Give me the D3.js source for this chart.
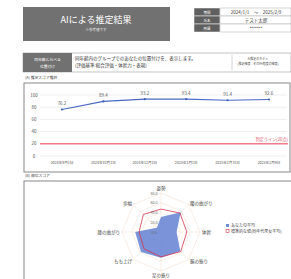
<!DOCTYPE html>
<html><head><meta charset="utf-8">
<script src="https://cdn.jsdelivr.net/npm/d3@7"></script>
<style>html,body{margin:0;padding:0;background:#fff;}svg{display:block;font-family:"Noto Sans CJK JP","Noto Sans",sans-serif;}</style>
</head><body>
<svg id="c" width="291" height="279"></svg>
<script>
// ---- data ----
const dates = ["2024年9月1日","2024年10月1日","2024年12月1日","2025年1月1日","2025年1月31日","2025年2月9日"];
const scores = [76.2, 89.4, 93.2, 93.4, 91.4, 92.6];
const yTicks = [0, 20, 40, 60, 80, 100];
const thresholdValue = 20;
const thresholdLabel = "判定ライン(20点)";
const radarAxes = ["姿勢","腰の曲がり","体幹","腕の振り","足の振り","もも上げ","膝の曲がり","歩幅"];
const yourAvg = [31, 57, 32, 56, 53, 58, 53, 12];
const standard = [47, 55, 53, 57, 51, 49, 45, 51];
const radarTicks = [0, 20, 40, 60, 80];
const infoLabels = ["期間","氏名","所属"];
const infoValues = ["2024/1/1　～　2025/2/9","テスト太郎","******"];

const svg = d3.select("#c");
const dark = "#717171";

// ---- title ----
svg.append("rect").attr("x",23).attr("y",7).attr("width",147).attr("height",34).attr("fill",dark);
svg.append("text").attr("x",96).attr("y",23).attr("text-anchor","middle").attr("fill","#fff")
  .attr("font-size",9).text("AIによる推定結果");
svg.append("text").attr("x",96).attr("y",31).attr("text-anchor","middle").attr("fill","#eee")
  .attr("font-size",3.5).text("※参考値です");

// ---- info table ----
const rowH = 8;
infoLabels.forEach((l,i)=>{
  const y = 8 + i*rowH;
  svg.append("rect").attr("x",194).attr("y",y).attr("width",26).attr("height",rowH).attr("fill","#5f5f5f").attr("stroke","#fff").attr("stroke-width",0.5);
  svg.append("rect").attr("x",220).attr("y",y).attr("width",71).attr("height",rowH).attr("fill","#fff").attr("stroke","#aaa").attr("stroke-width",0.5);
  svg.append("text").attr("x",207).attr("y",y+5.5).attr("text-anchor","middle").attr("fill","#fff").attr("font-size",3.5).text(l);
  svg.append("text").attr("x",256).attr("y",y+5.7).attr("text-anchor","middle").attr("fill","#333").attr("font-size",4.5).text(infoValues[i]);
});

// ---- description row ----
svg.append("rect").attr("x",23).attr("y",53).attr("width",268).attr("height",19).attr("fill","#fff").attr("stroke","#999").attr("stroke-width",0.6);
svg.append("rect").attr("x",23).attr("y",53).attr("width",49).attr("height",19).attr("fill",dark);
svg.append("text").attr("x",47.5).attr("y",61).attr("text-anchor","middle").attr("fill","#fff").attr("font-size",3.8).text("同年齢と比べる");
svg.append("text").attr("x",47.5).attr("y",67.5).attr("text-anchor","middle").attr("fill","#fff").attr("font-size",3.8).text("位置付け");
svg.append("text").attr("x",75).attr("y",60).attr("fill","#333").attr("font-size",4.5).text("同年齢内のグループでのあなたの位置付けを、表示します。");
svg.append("text").attr("x",75).attr("y",67).attr("fill","#333").attr("font-size",4.5).text("(評価基準:総合評価・体幹力・表現)");
svg.append("line").attr("x1",232).attr("x2",232).attr("y1",55).attr("y2",70).attr("stroke","#bbb").attr("stroke-width",0.6);
svg.append("text").attr("x",258).attr("y",60).attr("text-anchor","middle").attr("fill","#555").attr("font-size",3).text("AI推定のモデル");
svg.append("text").attr("x",258).attr("y",65).attr("text-anchor","middle").attr("fill","#555").attr("font-size",3).text("(推定精度：約70%程度の精度)");

// ---- chart A ----
svg.append("text").attr("x",25).attr("y",79).attr("fill","#444").attr("font-size",3.8).text("(A) 推定スコア推移");
svg.append("rect").attr("x",24).attr("y",83).attr("width",266).attr("height",89).attr("fill","#fff").attr("stroke","#888").attr("stroke-width",1);

const y = d3.scaleLinear().domain([0,100]).range([156,95]);
const x = d3.scalePoint().domain(dates).range([62,269]);
const gA = svg.append("g");
yTicks.forEach(t=>{
  gA.append("line").attr("x1",40).attr("x2",287).attr("y1",y(t)).attr("y2",y(t)).attr("stroke","#e2e2e2").attr("stroke-width",0.6);
  gA.append("text").attr("x",34).attr("y",y(t)+1.6).attr("text-anchor","middle").attr("fill","#555").attr("font-size",4.5).text(t);
});
gA.append("line").attr("x1",40).attr("x2",288).attr("y1",y(thresholdValue)).attr("y2",y(thresholdValue)).attr("stroke","#ef7d8a").attr("stroke-width",1.4);
gA.append("text").attr("x",288).attr("y",y(thresholdValue)-2.5).attr("text-anchor","end").attr("fill","#e0505e").attr("font-size",4.2).text(thresholdLabel);
const line = d3.line().x((d,i)=>x(dates[i])).y(d=>y(d));
gA.append("path").datum(scores).attr("d",line).attr("fill","none").attr("stroke","#4a69c6").attr("stroke-width",1.2);
gA.selectAll("circle.pt").data(scores).enter().append("circle").attr("cx",(d,i)=>x(dates[i])).attr("cy",d=>y(d)).attr("r",1.1).attr("fill","#3f5fb8");
gA.selectAll("text.lbl").data(scores).enter().append("text").attr("x",(d,i)=>x(dates[i])).attr("y",d=>y(d)-4.5).attr("text-anchor","middle").attr("fill","#555").attr("font-size",4.5).text(d=>d.toFixed(1));
dates.forEach(d=>{
  gA.append("text").attr("x",x(d)).attr("y",164).attr("text-anchor","middle").attr("fill","#555").attr("font-size",3.6).text(d);
});

// ---- chart B ----
svg.append("text").attr("x",25).attr("y",177).attr("fill","#444").attr("font-size",3.8).text("(B) 部位スコア");
svg.append("rect").attr("x",24).attr("y",181).attr("width",268).attr("height",110).attr("fill","#fff").attr("stroke","#888").attr("stroke-width",1);

const cx = 161, cy = 232, R = 39;
const r = d3.scaleLinear().domain([0,80]).range([0,R]);
const n = radarAxes.length;
const ang = i => -Math.PI/2 + i*2*Math.PI/n;
const pt = (v,i) => [cx + r(v)*Math.cos(ang(i)), cy + r(v)*Math.sin(ang(i))];
const gB = svg.append("g");
radarTicks.slice(1).forEach(t=>{
  gB.append("polygon").attr("points", radarAxes.map((a,i)=>pt(t,i).join(",")).join(" "))
    .attr("fill","none").attr("stroke","#f3e0d4").attr("stroke-width",0.6);
});
radarAxes.forEach((a,i)=>{
  const p = pt(80,i);
  gB.append("line").attr("x1",cx).attr("y1",cy).attr("x2",p[0]).attr("y2",p[1]).attr("stroke","#f3e0d4").attr("stroke-width",0.6);
});
const radarLine = d3.lineRadial().angle((d,i)=>i*2*Math.PI/n).radius(d=>r(d)).curve(d3.curveLinearClosed);
gB.append("path").datum(yourAvg).attr("transform",`translate(${cx},${cy})`).attr("d",radarLine).attr("fill","#6f8ad6").attr("fill-opacity",0.92).attr("stroke","none");
gB.append("path").datum(standard).attr("transform",`translate(${cx},${cy})`).attr("d",radarLine).attr("fill","none").attr("stroke","#d6364f").attr("stroke-width",0.8);
radarTicks.forEach(t=>{
  gB.append("text").attr("x",cx-7).attr("y",cy - r(t)+1.5).attr("text-anchor","middle").attr("fill","#666").attr("font-size",3.6).text(t.toFixed(1));
});
radarAxes.forEach((a,i)=>{
  const c = Math.cos(ang(i)), s = Math.sin(ang(i));
  const vertical = Math.abs(c) < 0.1;
  const p = pt(vertical ? 89 : 84, i);
  const anchor = vertical ? "middle" : (c>0 ? "start" : "end");
  gB.append("text").attr("x", p[0]).attr("y",p[1]+1.6 + (vertical ? (s<0 ? -0.5 : 0.5) : 0))
    .attr("text-anchor",anchor).attr("fill","#444").attr("font-size",4.5).text(a);
});
// legend
const leg = svg.append("g");
leg.append("rect").attr("x",226).attr("y",224).attr("width",3).attr("height",3).attr("fill","#6f8ad6");
leg.append("text").attr("x",231).attr("y",227).attr("fill","#444").attr("font-size",4).text("あなたの平均");
leg.append("rect").attr("x",226).attr("y",229.5).attr("width",3).attr("height",3).attr("fill","none").attr("stroke","#d6364f").attr("stroke-width",0.6);
leg.append("text").attr("x",231).attr("y",232.5).attr("fill","#444").attr("font-size",4).text("標準的な値(同年代男女平均)");
</script>
</body></html>
